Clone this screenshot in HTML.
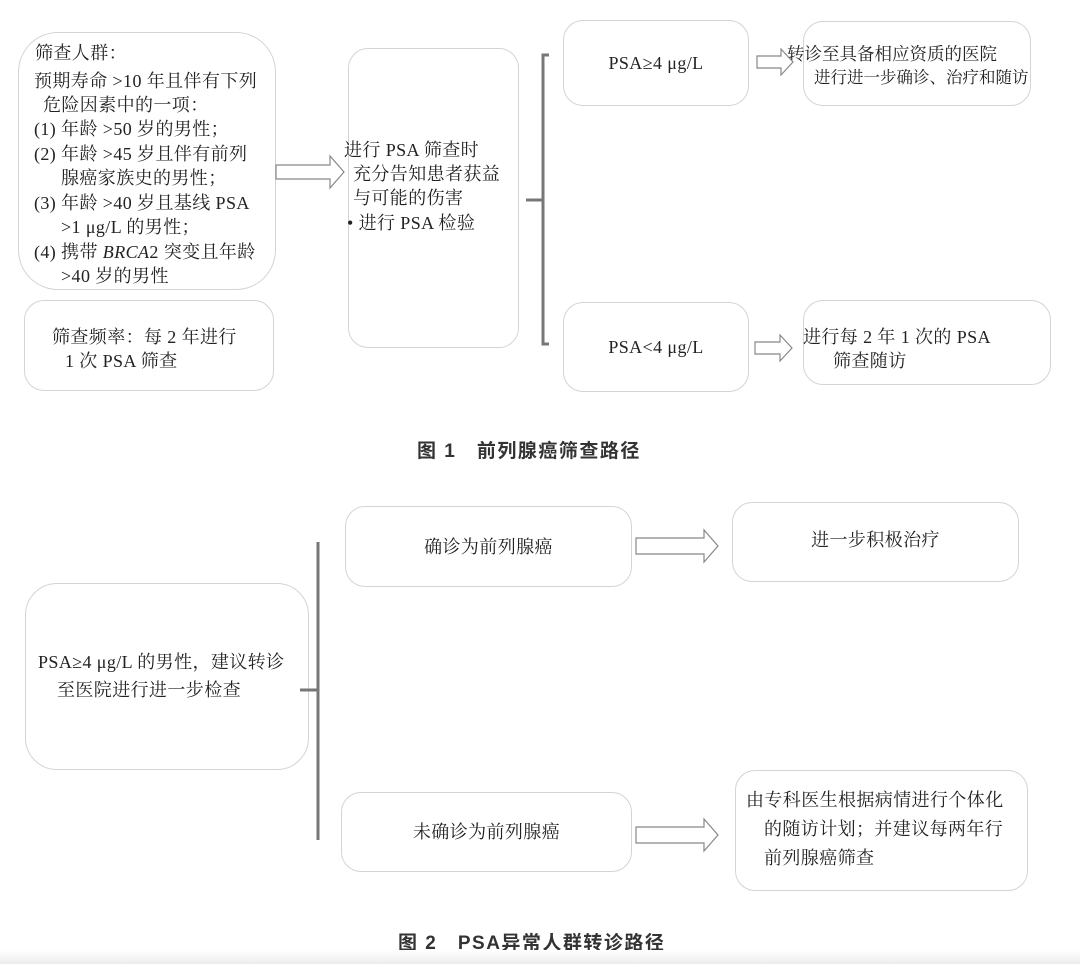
<!DOCTYPE html>
<html><head><meta charset="utf-8"><style>
body{margin:0;width:1080px;height:964px;background:#fff;position:relative;overflow:hidden;font-family:"Liberation Serif","Noto Serif CJK SC","Noto Sans CJK SC",serif;color:#222;}
.b{position:absolute;border:1.5px solid #d4d4d4;border-radius:20px;box-sizing:border-box;font-size:18px;line-height:24px;letter-spacing:.4px;}
.c{display:flex;align-items:center;justify-content:center;text-align:center;}
.t{position:absolute;white-space:pre;font-size:18px;line-height:24px;letter-spacing:.4px;}
.cap{position:absolute;font-family:"Liberation Sans","Noto Sans CJK SC",sans-serif;font-weight:bold;font-size:19px;letter-spacing:1.5px;color:#333;}
svg{position:absolute;left:0;top:0}
</style></head><body>
<div class="b" style="left:18px;top:32px;width:258px;height:258px;border-radius:40px"></div>
<div class="t" style="left:35px;top:41px">筛查人群：</div>
<div class="t" style="left:34px;top:69px">预期寿命 &gt;10 年且伴有下列</div>
<div class="t" style="left:43px;top:93px">危险因素中的一项：</div>
<div class="t" style="left:34px;top:117px">(1) 年龄 &gt;50 岁的男性；</div>
<div class="t" style="left:34px;top:142px">(2) 年龄 &gt;45 岁且伴有前列</div>
<div class="t" style="left:61px;top:166px">腺癌家族史的男性；</div>
<div class="t" style="left:34px;top:191px">(3) 年龄 &gt;40 岁且基线 PSA</div>
<div class="t" style="left:61px;top:215px">&gt;1 μg/L 的男性；</div>
<div class="t" style="left:34px;top:240px">(4) 携带 <i>BRCA</i>2 突变且年龄</div>
<div class="t" style="left:61px;top:264px">&gt;40 岁的男性</div>

<div class="b" style="left:24px;top:300px;width:250px;height:91px"></div>
<div class="t" style="left:52px;top:325px">筛查频率：每 2 年进行</div>
<div class="t" style="left:65px;top:349px">1 次 PSA 筛查</div>

<div class="b" style="left:348px;top:48px;width:171px;height:300px"></div>
<div class="t" style="left:344px;top:138px">进行 PSA 筛查时</div>
<div class="t" style="left:353px;top:162px">充分告知患者获益</div>
<div class="t" style="left:353px;top:186px">与可能的伤害</div>
<div class="t" style="left:347px;top:211px">• 进行 PSA 检验</div>

<div class="b c" style="left:563px;top:20px;width:186px;height:86px">PSA≥4 μg/L</div>
<div class="b" style="left:803px;top:21px;width:228px;height:85px"></div>
<div class="t" style="left:787px;top:42px;font-size:17.5px;letter-spacing:0">转诊至具备相应资质的医院</div>
<div class="t" style="left:814px;top:66px;font-size:16.5px;letter-spacing:0">进行进一步确诊、治疗和随访</div>

<div class="b c" style="left:563px;top:302px;width:186px;height:90px">PSA&lt;4 μg/L</div>
<div class="b" style="left:803px;top:300px;width:248px;height:85px"></div>
<div class="t" style="left:803px;top:325px">进行每 2 年 1 次的 PSA</div>
<div class="t" style="left:833px;top:349px">筛查随访</div>

<div class="cap" style="left:417px;top:436px">图 1　前列腺癌筛查路径</div>

<div class="b" style="left:25px;top:583px;width:284px;height:187px;border-radius:32px"></div>
<div class="t" style="left:38px;top:650px">PSA≥4 μg/L 的男性，建议转诊</div>
<div class="t" style="left:57px;top:678px">至医院进行进一步检查</div>

<div class="b c" style="left:345px;top:506px;width:287px;height:81px">确诊为前列腺癌</div>
<div class="b c" style="left:341px;top:792px;width:291px;height:80px">未确诊为前列腺癌</div>
<div class="b c" style="left:732px;top:502px;width:287px;height:80px;padding-bottom:4px">进一步积极治疗</div>
<div class="b" style="left:735px;top:770px;width:293px;height:121px"></div>
<div class="t" style="left:746px;top:788px">由专科医生根据病情进行个体化</div>
<div class="t" style="left:764px;top:817px">的随访计划；并建议每两年行</div>
<div class="t" style="left:764px;top:846px">前列腺癌筛查</div>

<div class="cap" style="left:398px;top:928px">图 2　PSA异常人群转诊路径</div>
<div style="position:absolute;left:0;top:950px;width:1080px;height:14px;background:linear-gradient(#fff,#ececec)"></div>

<svg width="1080" height="964">
<g fill="#fff" stroke="#888" stroke-width="1.2">
<path d="M276 165 H330 V156 L344 172 L330 188 V179 H276 Z"/>
<path d="M757 56 H781 V49 L793 62 L781 75 V68 H757 Z"/>
<path d="M755 342 H780 V335 L792 348 L780 361 V354 H755 Z"/>
<path d="M636 538 H704 V530 L718 546 L704 562 V554 H636 Z"/>
<path d="M636 827 H704 V819 L718 835 L704 851 V843 H636 Z"/>
</g>
<g fill="none" stroke="#777" stroke-width="3">
<path d="M549 55 H543 V344 H549 M526 200 H543"/>
<path d="M318 542 V840 M300 690 H318"/>
</g>
</svg>
</body></html>
